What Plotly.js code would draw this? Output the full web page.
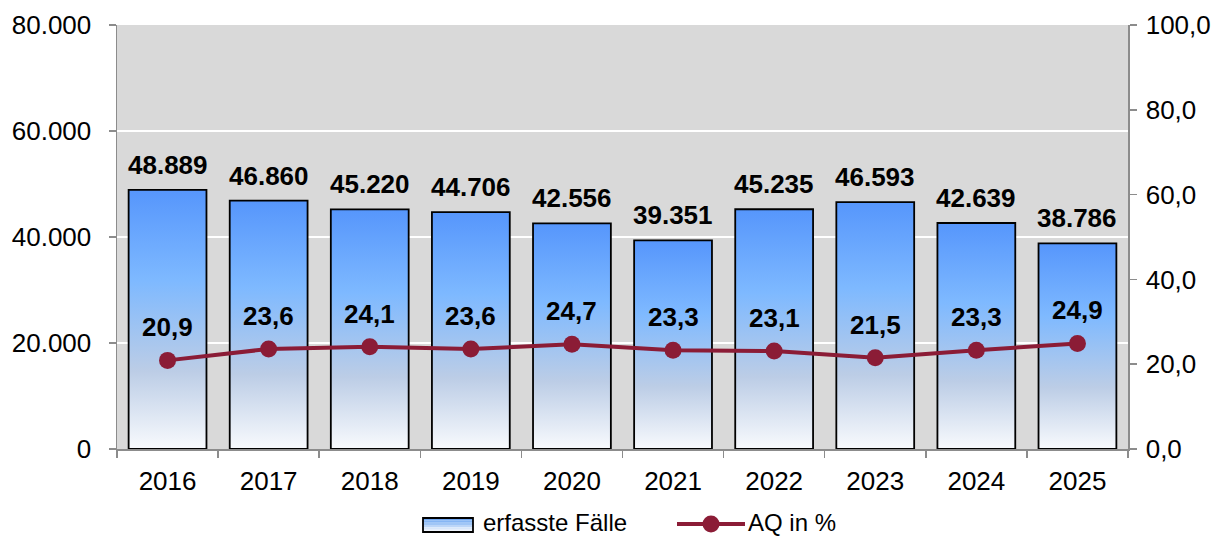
<!DOCTYPE html>
<html><head><meta charset="utf-8">
<script src="https://cdn.plot.ly/plotly-3.0.1.min.js"></script>
<style>html,body{margin:0;padding:0;background:#fff;}#chart{width:1219px;height:538px;}</style>
</head><body><div id="chart"></div>
<script>
const years = ['2016','2017','2018','2019','2020','2021','2022','2023','2024','2025'];
const cases = [48889,46860,45220,44706,42556,39351,45235,46593,42639,38786];
const aq = [20.9,23.6,24.1,23.6,24.7,23.3,23.1,21.5,23.3,24.9];
const seriesNames = ['erfasste Fälle', 'AQ in %'];

const FONT = '"Liberation Sans", Arial, sans-serif';
const LINE_COLOR = '#8b1c36';
const idx = years.map((_, i) => i);
const bw = 0.77;
function fmtThousands(v){ return String(v).replace(/\B(?=(\d{3})+(?!\d))/g, '.'); }
function fmtPct(v){ return v.toFixed(1).replace('.', ','); }

const M = {l: 117, r: 91, t: 25, b: 89};
const W = 1219, H = 538;
const PW = W - M.l - M.r, PH = H - M.t - M.b;
const px = x => (x - M.l) / PW;
const py = y => (H - M.b - y) / PH;

const traces = [];
cases.forEach((v, i) => {
  traces.push({
    type: 'scatter', mode: 'lines', fill: 'toself',
    x: [i - bw/2, i - bw/2, i + bw/2, i + bw/2, i - bw/2],
    y: [0, v, v, 0, 0],
    line: {color: '#000000', width: 1.8},
    fillgradient: {type: 'vertical', start: 0, stop: v,
      colorscale: [[0,'#f8fafd'],[0.3,'#bccde6'],[0.65,'#7eb9ff'],[1,'#5696fc']]},
    name: seriesNames[0], showlegend: false,
    xaxis: 'x', yaxis: 'y', hoverinfo: 'skip'
  });
});
traces.push({
  type: 'scatter', mode: 'lines+markers', x: idx, y: aq, name: seriesNames[1],
  xaxis: 'x', yaxis: 'y2', showlegend: false,
  line: {color: LINE_COLOR, width: 4},
  marker: {color: LINE_COLOR, size: 17}
});
traces.push({type:'scatter', x:[-0.5], y:[0], xaxis:'x2', yaxis:'y', showlegend:false, mode:'markers', marker:{opacity:0}, hoverinfo:'skip'});

const annotations = [];
cases.forEach((v, i) => annotations.push({
  x: i, y: v, xref: 'x', yref: 'y', text: '<b>' + fmtThousands(v) + '</b>',
  showarrow: false, yshift: 25, font: {family: FONT, size: 26, color: '#000'}
}));
aq.forEach((v, i) => annotations.push({
  x: i, y: v, xref: 'x', yref: 'y2', text: '<b>' + fmtPct(v) + '</b>',
  showarrow: false, yshift: 33, font: {family: FONT, size: 26, color: '#000'}
}));

// custom legend
const shapes = [];
const bandCols = ['#6fa6f2', '#86b6f4', '#a0c6f6', '#bcd6f8', '#d8e7fa', '#eef4fc'];
const iconTop = 518, iconBot = 532, bandH = (iconBot - iconTop) / bandCols.length;
bandCols.forEach((c, k) => shapes.push({type: 'rect', xref: 'paper', yref: 'paper',
  x0: px(423), x1: px(473), y0: py(iconTop + k * bandH), y1: py(iconTop + (k + 1) * bandH),
  fillcolor: c, line: {width: 0}, layer: 'above'}));
shapes.push({type: 'rect', xref: 'paper', yref: 'paper', x0: px(423), x1: px(473), y0: py(iconTop), y1: py(iconBot),
  fillcolor: 'rgba(0,0,0,0)', line: {color: '#000', width: 1.8}, layer: 'above'});
shapes.push({type: 'line', xref: 'paper', yref: 'paper', x0: px(677), x1: px(745), y0: py(524), y1: py(524),
  line: {color: LINE_COLOR, width: 4}, layer: 'above'});
shapes.push({type: 'circle', xref: 'paper', yref: 'paper', x0: px(702.5), x1: px(719.5), y0: py(515.5), y1: py(532.5),
  fillcolor: LINE_COLOR, line: {width: 0}, layer: 'above'});
annotations.push({xref: 'paper', yref: 'paper', x: px(481), y: py(522.5), xanchor: 'left', yanchor: 'middle',
  text: seriesNames[0], showarrow: false, font: {family: FONT, size: 24, color: '#000'}});
annotations.push({xref: 'paper', yref: 'paper', x: px(746), y: py(522.5), xanchor: 'left', yanchor: 'middle',
  text: seriesNames[1], showarrow: false, font: {family: FONT, size: 24, color: '#000'}});

const layout = {
  width: W, height: H,
  margin: {l: M.l, r: M.r, t: M.t, b: M.b, autoexpand: false},
  paper_bgcolor: '#ffffff', plot_bgcolor: '#d9d9d9',
  separators: ',.',
  font: {family: FONT, size: 26, color: '#000'},
  xaxis: {range: [-0.5, 9.5], tickvals: idx, ticktext: years, ticks: 'outside', ticklen: 9,
    tickcolor: 'rgba(0,0,0,0)', showgrid: false, zeroline: false, showline: false, fixedrange: true,
    tickfont: {size: 26}},
  xaxis2: {overlaying: 'x', range: [-0.5, 9.5], tickvals: [-0.5,0.5,1.5,2.5,3.5,4.5,5.5,6.5,7.5,8.5,9.5],
    ticks: 'outside', ticklen: 7, tickcolor: '#8c8c8c', tickwidth: 1.5, showticklabels: false,
    showgrid: false, zeroline: false, showline: true, linecolor: '#8c8c8c', linewidth: 1.5, side: 'bottom'},
  yaxis: {range: [0, 80000], tickvals: [0,20000,40000,60000,80000], tickformat: ',d',
    ticks: 'outside', ticklen: 7, tickcolor: '#8c8c8c', tickwidth: 1.5, ticklabelstandoff: 12,
    showline: true, linecolor: '#8c8c8c', linewidth: 1.5,
    showgrid: true, gridcolor: '#ffffff', gridwidth: 1.5, zeroline: false, layer: 'below traces',
    tickfont: {size: 26}},
  yaxis2: {range: [0, 100], tickvals: [0,20,40,60,80,100], tickformat: '.1f', overlaying: 'y', side: 'right',
    ticks: 'outside', ticklen: 7, tickcolor: '#8c8c8c', tickwidth: 1.5, ticklabelstandoff: 4,
    showline: true, linecolor: '#8c8c8c', linewidth: 1.5, showgrid: false, zeroline: false,
    tickfont: {size: 26}},
  annotations: annotations,
  shapes: shapes,
  showlegend: false
};
Plotly.newPlot('chart', traces, layout, {displayModeBar: false, staticPlot: true});
</script></body></html>
